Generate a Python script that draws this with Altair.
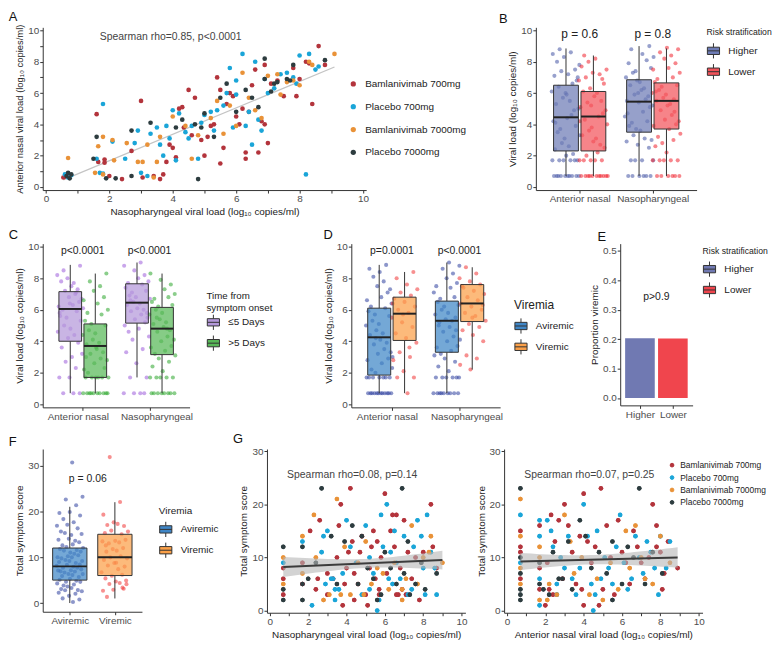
import numpy as np
import pandas as pd
import altair as alt

FONT = "Liberation Sans"

# ---------------- shared categories ----------------
GROUPS = ["Bamlanivimab 700mg", "Placebo 700mg", "Bamlanivimab 7000mg", "Placebo 7000mg"]
GROUP_COLORS = ["#B3343C", "#1AA5D8", "#E99238", "#2D3C3F"]
SITES = ["Anterior nasal", "Nasopharyngeal"]
RISK = ["Higher", "Lower"]
ONSET = ["≤5 Days", ">5 Days"]
VIREMIA = ["Aviremic", "Viremic"]
TICKS_0_10 = list(range(0, 11))

# ---------------- Panel A: (nasopharyngeal, anterior nasal) ----------------
A_BAM700 = [(0.55,0.6),(0.6,0.65),(1.6,4.65),(1.65,1.6),(1.85,1.75),(1.85,1.55),(2.0,0.7),(2.4,0.5),(2.7,2.3),(3.0,5.5),
            (3.05,0.6),(3.4,0.7),(3.6,0.5),(3.7,0.8),(3.8,1.6),(3.9,2.7),(4.0,2.5),(4.1,1.9),(4.2,5.0),(4.3,5.1),
            (4.35,3.8),(4.5,6.2),(4.6,3.3),(4.7,5.7),(4.9,3.0),(5.0,2.0),(5.1,3.2),(5.2,3.9),(5.3,4.0),(5.4,7.0),
            (5.5,6.2),(5.5,1.5),(5.6,2.5),(5.7,5.3),(5.8,6.0),(5.9,5.8),(6.0,4.5),(6.1,4.0),(6.2,5.0),(6.3,2.2),
            (6.3,1.8),(6.4,4.8),(6.5,6.5),(6.6,7.5),(6.7,2.2),(6.8,4.2),(6.9,7.8),(6.9,4.0),(7.0,2.8),(7.1,6.6),
            (7.3,6.8),(7.5,5.8),(7.8,7.6),(7.9,5.8),(8.0,6.9),(8.2,8.0),(8.3,7.9),(8.4,5.3),(8.6,9.0),(8.8,7.8)]
A_PLA700 = [(0.6,0.8),(0.7,0.6),(0.8,0.75),(1.6,1.8),(1.7,0.9),(1.8,0.85),(1.8,5.3),(2.1,2.9),(2.5,1.8),(2.8,2.8),
            (2.9,3.6),(3.0,0.9),(3.2,0.7),(3.3,3.4),(3.5,3.8),(3.6,2.7),(3.7,2.0),(3.8,3.9),(3.9,3.1),(4.0,4.9),
            (4.1,1.7),(4.2,4.7),(4.4,3.5),(4.5,3.1),(4.6,3.9),(4.8,1.8),(4.9,4.1),(5.0,4.6),(5.2,4.8),(5.3,3.6),
            (5.4,4.9),(5.6,5.2),(5.7,6.0),(5.8,7.6),(5.9,3.8),(6.0,5.9),(6.0,6.8),(6.2,8.5),(6.3,3.9),(6.4,4.8),
            (6.5,2.7),(6.6,8.0),(6.7,4.3),(6.8,3.6),(6.9,6.9),(7.0,6.0),(7.2,6.3),(7.4,7.2),(7.6,7.3),(7.8,7.0),
            (8.0,8.4),(8.2,0.8),(8.3,8.5),(8.5,7.5),(8.6,7.7),(7.9,6.6)]
A_BAM7000 = [(0.7,1.85),(1.55,0.9),(1.65,2.6),(1.8,3.2),(1.8,0.8),(2.1,3.0),(2.15,1.7),(2.55,2.8),(2.9,1.6),(3.05,1.6),
             (3.2,2.7),(3.4,0.6),(3.5,1.6),(3.6,3.2),(4.0,4.5),(4.4,3.9),(4.6,1.8),(4.8,3.3),(5.2,4.4),(5.4,5.5),
             (5.6,3.4),(5.8,5.2),(6.0,3.9),(6.2,7.3),(6.4,5.7),(6.6,4.9),(6.8,4.4),(7.0,7.1),(7.3,7.2),(7.4,5.9),
             (7.6,6.7),(7.8,6.8),(8.0,6.5),(8.3,8.0),(8.4,7.8),(9.1,8.5)]
A_PLA7000 = [(0.65,0.7),(0.7,0.9),(0.75,0.55),(0.8,0.8),(1.5,1.8),(1.6,3.2),(1.9,0.55),(2.2,0.55),(2.7,3.6),(2.7,0.7),
             (3.3,4.1),(4.1,3.8),(4.3,4.3),(4.7,4.0),(4.8,0.5),(4.9,3.8),(5.0,4.7),(5.3,3.2),(5.5,5.7),(5.7,6.6),
             (6.0,4.8),(6.3,6.2),(6.5,5.7),(6.7,5.1),(6.9,8.2),(6.9,6.9),(7.1,6.1),(7.2,6.6),(7.3,6.7),(7.6,6.9),
             (7.7,6.8),(7.8,7.8),(8.8,8.1)]

# ---------------- Panel G (left): (nasopharyngeal, symptom score) ----------------
G1_BAM700 = [(0.7,3),(0.7,6),(0.7,8),(1.7,5),(1.7,9),(2.1,15),(2.5,6),(2.6,17),(3.0,7),(3.3,6),(3.5,10),(3.6,16),
             (3.7,20),(3.8,1),(3.9,5),(4.0,8),(4.1,11),(4.2,23),(4.3,13),(4.4,7),(4.6,5),(4.7,11),(4.8,14),(5.0,3),
             (5.1,1),(5.2,8),(5.3,12),(5.4,15),(5.5,6),(5.6,13),(5.7,4),(5.8,10),(6.0,22),(6.1,7),(6.3,15),(6.4,18),
             (6.5,12),(6.6,18),(6.7,3),(6.8,8),(6.9,4),(7.0,17),(7.2,11),(7.4,6),(7.6,10),(7.8,2),(8.0,11),(8.4,20),(8.7,8),
             (5.7,3),(6.6,3),(7.1,3),(4.4,2),(2.4,4),(3.0,3),(8.5,12)]
G1_PLA700 = [(0.7,9),(1.7,13),(2.2,1),(2.7,11),(2.8,14),(3.0,15),(3.2,6),(3.4,4),(3.6,4),(3.8,7),(4.0,17),(4.2,12),
             (4.5,9),(4.8,3),(5.0,16),(5.2,10),(5.4,7),(5.6,0),(5.7,2),(5.8,18),(5.9,12),(6.1,20),(6.2,6),(6.3,11),
             (6.5,15),(6.6,9),(6.8,6),(7.0,14),(7.2,3),(7.5,12),(7.7,17),(8.0,8),(8.1,3),(8.2,18),(8.4,11),(8.7,3),(8.6,8),
             (3.3,6),(6.4,5),(7.4,4),(5.2,4),(3.4,2),(2.9,5),(7.9,14)]
G1_BAM7000 = [(0.7,5),(0.7,10),(1.7,14),(1.7,7),(2.3,18),(2.4,10),(2.8,2),(3.1,3),(3.5,21),(3.9,12),(4.2,3),(4.6,9),
              (5.0,13),(5.3,5),(5.6,8),(5.9,7),(6.2,4),(6.5,9),(6.9,2),(7.1,6),(7.4,16),(7.7,5),(8.0,10),(8.4,14),(9.0,9),
              (4.9,3),(6.9,4),(3.7,3),(8.3,11)]
G1_PLA7000 = [(0.7,2),(0.7,4),(0.7,12),(1.7,2),(1.7,5),(1.7,12),(2.4,9),(2.7,23),(3.2,14),(3.5,5),(3.9,13),(4.3,16),
              (4.6,5),(4.8,14),(5.1,8),(5.4,6),(5.8,3),(6.0,11),(6.3,8),(6.6,5),(6.9,23),(7.0,7),(7.2,13),(7.6,5),(7.9,9),(8.7,7),
              (5.6,2),(7.3,3),(8.1,4),(2.0,6)]

# ---------------- Panel G (right): (anterior nasal, symptom score) ----------------
G2_BAM700 = [(0.7,15),(0.7,12),(0.7,6),(0.7,11),(1.7,16),(1.7,8),(2.0,1),(2.1,9),(2.2,4),(2.3,18),(2.5,13),(2.7,17),
             (3.0,20),(3.2,16),(3.4,11),(3.6,5),(3.8,14),(4.0,22),(4.0,1),(4.2,13),(4.4,9),(4.6,12),(4.8,1),(4.9,23),
             (5.0,4),(5.2,16),(5.4,10),(5.6,3),(5.8,17),(6.0,11),(6.2,9),(6.4,5),(6.6,15),(6.8,12),(7.0,9),(7.2,6),
             (7.4,10),(7.6,20),(7.8,16),(8.0,11),(8.1,4),(8.2,7),(8.9,8),(2.9,6),(2.4,3),(7.8,12),(8.4,13),
             (1.7,4),(3.9,4)]
G2_PLA700 = [(0.7,18),(0.7,9),(1.7,17),(1.7,14),(1.7,6),(1.7,1),(2.1,17),(2.3,15),(2.4,12),(2.6,3),(2.8,10),(3.0,8),
             (3.2,14),(3.4,6),(3.6,3),(3.8,8),(4.0,20),(4.2,14),(4.4,5),(4.5,0),(4.7,15),(4.9,6),(5.1,10),(5.3,8),
             (5.5,5),(5.7,12),(5.9,18),(6.1,9),(6.3,4),(6.5,6),(6.7,14),(6.9,10),(7.1,7),(7.3,13),(7.5,11),(7.7,8),
             (7.9,3),(8.0,14),(8.3,8),(8.5,13),(2.6,5),(4.6,3)]
G2_BAM7000 = [(0.7,21),(0.7,14),(0.7,8),(0.7,5),(1.7,12),(1.7,2),(1.7,10),(2.2,5),(2.6,3),(3.0,18),(3.3,13),(3.5,7),
              (3.9,10),(4.3,3),(4.7,6),(5.0,2),(5.4,9),(5.8,4),(6.2,15),(6.4,8),(6.7,16),(7.0,10),(7.2,6),(7.6,5),(8.0,14),(8.5,9),
              (2.1,2)]
G2_PLA7000 = [(0.7,23),(0.7,10),(0.7,7),(0.7,4),(0.7,3),(0.7,2),(1.7,5),(1.7,9),(2.4,11),(2.9,6),(3.2,13),(3.4,4),
              (3.8,17),(4.1,14),(4.4,8),(4.8,11),(5.2,7),(5.5,13),(6.0,5),(6.3,12),(6.6,10),(6.9,23),(7.2,5),(7.6,11),(8.1,7),
              (2.2,3),(2.7,6),(1.9,4),(5.5,2)]

# ---------------- Box statistics [lower whisker, Q1, median, Q3, upper whisker] ----------------
B_STATS = [[0.7, 2.3, 4.45, 6.5, 8.85], [0.7, 2.3, 4.5, 6.1, 8.4],
           [0.7, 3.5, 5.45, 6.85, 9.0], [0.7, 3.7, 5.5, 6.65, 8.85]]
C_STATS = [[0.7, 4.0, 6.05, 7.15, 8.85], [0.7, 1.7, 3.7, 5.1, 8.3],
           [1.7, 5.15, 6.45, 7.65, 9.0], [0.7, 3.15, 4.8, 6.15, 8.3]]
D_STATS = [[0.7, 1.85, 4.25, 6.1, 8.85], [0.7, 4.05, 5.75, 6.8, 8.4],
           [0.7, 3.3, 5.3, 6.55, 9.0], [2.2, 5.25, 6.4, 7.6, 8.7]]
F_STATS = [[0, 5, 8, 12, 21], [1, 6, 10, 15, 22]]

# ---------------- Individual values behind the boxes ----------------
B_PTS = [
    [0.7,0.7,0.7,0.7,0.7,0.7,0.7,0.7,0.7,0.7,1.7,1.7,1.7,1.7,1.7,1.7,2.0,2.4,2.1,2.8,3.3,2.6,3.5,3.9,3.1,4.2,4.6,3.7,
     5.0,4.4,5.3,4.9,5.7,6.1,5.5,6.4,6.8,6.0,7.1,6.6,7.4,7.8,7.2,8.0,7.5,8.3,8.5,8.6,8.8,7.0,5.9,4.1],
    [0.7,0.7,0.7,0.7,0.7,0.7,0.7,0.7,0.7,0.7,0.7,1.7,1.7,1.7,1.7,1.7,2.2,2.0,2.5,2.9,3.3,2.7,3.6,4.0,3.1,4.3,4.7,3.8,
     5.1,4.5,5.4,4.9,5.8,6.1,5.5,6.3,6.8,6.0,7.0,6.6,7.3,7.7,7.2,8.0,7.5,8.2,8.4,6.9,5.2,4.2],
    [0.7,0.7,0.7,0.7,0.7,0.7,1.7,1.7,1.7,1.7,2.5,2.7,2.9,3.1,3.3,3.0,3.6,3.9,4.2,3.7,4.5,4.8,4.1,5.1,5.4,4.7,5.6,5.9,
     5.2,6.2,6.5,5.8,6.8,7.0,6.3,7.3,7.6,6.7,7.9,8.1,7.4,8.3,8.5,8.8,9.0,6.0,5.5],
    [0.7,0.7,0.7,0.7,0.7,0.7,1.7,1.7,1.7,1.7,1.7,2.2,2.6,3.0,2.8,3.4,3.7,3.2,4.0,4.3,3.9,4.6,4.9,4.2,5.2,5.5,4.8,5.7,
     6.0,5.3,6.2,6.5,5.9,6.7,7.0,6.4,7.3,7.6,6.9,7.9,8.2,7.5,8.4,8.6,8.8,8.9,6.1,5.6],
]
C_PTS = [
    [0.7,0.7,0.7,1.7,1.7,2.3,2.7,3.2,3.0,3.6,3.9,4.2,4.6,4.4,5.0,5.3,4.8,5.6,5.9,5.5,6.1,6.3,6.0,6.5,6.8,6.2,7.0,7.2,
     6.7,7.5,7.8,7.3,8.0,8.2,7.7,8.5,8.8,6.4,5.8,7.1],
    [0.7,0.7,0.7,0.7,0.7,0.7,0.7,0.7,0.7,0.7,1.7,1.7,1.7,1.7,1.7,1.7,2.0,2.3,2.6,2.2,2.9,3.2,2.8,3.5,3.8,3.3,4.1,4.4,
     3.9,4.7,5.0,4.5,5.3,5.7,5.1,6.0,6.4,5.8,6.8,7.2,6.6,7.5,7.8,8.3,3.6,3.0],
    [0.7,0.7,0.7,0.7,1.7,1.7,2.6,3.3,3.5,4.1,4.3,4.8,4.6,5.2,5.4,5.0,5.7,5.9,5.5,6.1,6.3,6.0,6.5,6.7,6.4,6.9,7.2,6.8,
     7.4,7.6,7.1,7.8,8.0,7.7,8.2,8.5,8.8,9.0,6.6,5.8],
    [0.7,0.7,0.7,0.7,0.7,0.7,0.7,0.7,1.7,1.7,1.7,1.7,1.7,2.1,2.4,2.7,2.9,3.1,3.4,3.2,3.7,4.0,3.6,4.3,4.6,4.1,4.9,5.1,
     4.7,5.4,5.7,5.2,6.0,6.3,5.8,6.5,6.8,6.2,7.0,7.3,6.7,7.6,7.9,8.3,4.8,5.5],
]
D_PTS = [
    [0.7,0.7,0.7,0.7,0.7,0.7,0.7,0.7,0.7,0.7,0.7,0.7,1.7,1.7,1.7,1.7,1.7,1.7,1.7,2.0,2.3,2.6,2.2,2.9,3.2,2.8,3.5,3.8,
     3.3,4.1,4.4,3.9,4.7,5.0,4.5,5.3,5.6,5.1,5.9,6.1,5.7,6.4,6.8,6.2,7.1,7.5,6.6,7.8,8.1,7.3,8.4,8.6,8.85,4.2,3.0],
    [0.7,1.7,1.7,2.1,2.8,3.0,3.3,3.9,4.2,4.5,4.9,5.2,5.5,5.8,6.0,6.2,6.5,6.7,6.9,7.1,7.3,7.6,8.0,8.4,5.7,6.4,3.6],
    [0.7,0.7,0.7,0.7,0.7,0.7,0.7,0.7,0.7,1.7,1.7,1.7,1.7,1.7,1.7,2.1,2.4,2.7,2.9,3.1,3.4,3.2,3.7,4.0,3.6,4.3,4.6,4.1,
     4.9,5.2,4.7,5.4,5.7,5.3,6.0,6.3,5.8,6.5,6.8,6.2,7.1,7.4,6.7,7.7,8.0,7.5,8.3,8.6,8.8,9.0,5.0,5.5],
    [2.2,2.5,2.9,3.1,4.0,4.4,4.7,4.9,5.1,5.3,5.6,5.8,6.0,6.2,6.4,6.6,6.8,7.0,7.2,7.4,7.6,7.8,8.0,8.3,8.7,6.3,5.5,7.5],
]
F_PTS = [
    [0,1,1,2,2,2,3,3,3,3,3,4,4,4,4,5,5,5,5,5,6,6,6,6,6,7,7,7,7,7,7,8,8,8,8,8,8,9,9,9,9,9,10,10,10,10,10,
     11,11,11,11,12,12,12,12,13,13,13,14,14,14,15,15,15,16,16,17,17,18,18,19,20,20,21,22.5,23.3,31],
    [1,3,3,3,4,4,5,5,5,6,6,7,7,8,8,9,9,10,10,10,11,11,12,12,13,13,13,14,14,15,15,16,16,17,17,17,18,19,22,32,
     4.5,8.5,12.5,3.5],
]
E_PROP = [0.203, 0.202]

B_NOTES = ["p = 0.6", "p = 0.8"]
C_NOTES = ["p<0.0001", "p<0.0001"]
D_NOTES = ["p=0.0001", "p<0.0001"]

# ---------------- colours ----------------
B_BOX = ["#6E7CB6", "#F2545B"]; B_PT = ["#4454A4", "#F0222E"]
C_BOX = ["#B499DA", "#58B858"]; C_PT = ["#9C5CDA", "#2BA52B"]
D_BOX = ["#3F86C6", "#FBA048"]; D_PT = ["#2E3F9E", "#F03434"]
E_COL = ["#7079B2", "#F0454D"]

BOX_GLYPH = "M-1,-0.6H1V0.6H-1Z M0,-0.6V-1.25 M0,0.6V1.25 M-1,0H1"
LOG = "log\u2081\u2080"
SPLIT = {"condition": {"test": "datum.value == 1", "value": -5}, "value": 7}
EVEN_ONLY = "datum.value % 2 == 0 ? datum.label : ''"


def letter(t, dx=0, offset=0):
    return alt.TitleParams(t, anchor="start", frame="bounds", fontSize=13, fontWeight="normal",
                           font=FONT, color="#111", dx=dx, offset=offset)


def box_legend(title, x, y, title_size=8.7, label_size=10, row_pad=1, title_pad=7, sym=150):
    return alt.Legend(title=title, orient="none", legendX=x, legendY=y, offset=0, symbolType=BOX_GLYPH,
                      symbolSize=sym, symbolStrokeColor="#333", symbolStrokeWidth=1,
                      titleFontSize=title_size, labelFontSize=label_size, rowPadding=row_pad,
                      titlePadding=title_pad, labelOffset=8, symbolOpacity=1, titleLineHeight=11.5)


def box_frames(cats, groups, stats, pts):
    srows, prows = [], []
    k = 0
    for ci in range(len(cats)):
        for gi, grp in enumerate(groups[ci]):
            lo, q1, md, q3, hi = stats[k]
            srows.append(dict(cat=ci + 1, g=gi, group=grp, lo=lo, q1=q1, med=md, q3=q3, hi=hi))
            for v in pts[k]:
                prows.append(dict(cat=ci + 1, g=gi, group=grp, v=v))
            k += 1
    return pd.DataFrame(srows), pd.DataFrame(prows)


def box_panel(cats, groups, stats, pts, box_cols, pt_cols, legend, notes, ydom, yvals, ytitle,
              w, h, title, dodge=0.375, half=0.17, jit=0.2, yjit=0.0, domain_groups=None,
              note_size=10, label_offset=0):
    sdf, pdf = box_frames(cats, groups, stats, pts)
    dom = domain_groups
    xs = alt.Scale(domain=[0.4, len(cats) + 0.6], nice=False, zero=False)
    ys = alt.Scale(domain=ydom, nice=False, zero=False)
    expr = " : ".join([f"datum.value == {i + 1} ? '{c}'" for i, c in enumerate(cats)]) + " : ''"
    xax = alt.Axis(title=None, values=list(range(1, len(cats) + 1)), labelExpr=expr, labelOffset=label_offset)
    yax = alt.Axis(title=ytitle, values=yvals)

    def X(f):
        return alt.X(f, type="quantitative", scale=xs, axis=xax)

    def Y(f):
        return alt.Y(f, type="quantitative", scale=ys, axis=yax)

    pos = f"datum.cat + (datum.g - 0.5) * {dodge}"
    base = alt.Chart(sdf).transform_calculate(xc=pos, xa=f"{pos} - {half}", xb=f"{pos} + {half}")
    points = alt.Chart(pdf).transform_window(rn="row_number()").transform_calculate(
        xj=f"{pos} + ((datum.rn * 0.618034) % 1 - 0.5) * {2 * jit}",
        yj=f"datum.v + ((datum.rn * 0.7548777) % 1 - 0.5) * {2 * yjit}",
    ).mark_circle(size=17, opacity=0.55).encode(
        x=X("xj"), y=Y("yj"),
        color=alt.Color("group:N", scale=alt.Scale(domain=dom, range=pt_cols), legend=None))
    wlo = base.mark_rule(color="#333", strokeWidth=1).encode(x=X("xc"), y=Y("lo"), y2=alt.Y2("q1"))
    whi = base.mark_rule(color="#333", strokeWidth=1).encode(x=X("xc"), y=Y("q3"), y2=alt.Y2("hi"))
    box = base.mark_rect(stroke="#333", strokeWidth=1, fillOpacity=0.72).encode(
        x=X("xa"), x2=alt.X2("xb"), y=Y("q1"), y2=alt.Y2("q3"),
        color=alt.Color("group:N", scale=alt.Scale(domain=dom, range=box_cols), legend=legend))
    med = base.mark_rule(color="#222", strokeWidth=2).encode(x=X("xa"), x2=alt.X2("xb"), y=Y("med"))
    ndf = pd.DataFrame(notes)
    txt = alt.Chart(ndf).mark_text(font=FONT, fontSize=note_size, color="#222").encode(
        x=X("x"), y=Y("y"), text="t:N")
    return alt.layer(points, wlo, whi, box, med, txt).resolve_scale(color="independent").properties(
        width=w, height=h, title=title)


def pairs_df(lists):
    rows = []
    for g, pts in zip(GROUPS, lists):
        for x, y in pts:
            rows.append({"x": x, "y": y, "group": g})
    return pd.DataFrame(rows)


def band_df(df):
    x = df["x"].to_numpy(float)
    y = df["y"].to_numpy(float)
    n = len(x)
    b1, b0 = np.polyfit(x, y, 1)
    s = np.sqrt(np.sum((y - (b0 + b1 * x)) ** 2) / (n - 2))
    xs = np.linspace(x.min(), x.max(), 30)
    se = s * np.sqrt(1.0 / n + (xs - x.mean()) ** 2 / np.sum((x - x.mean()) ** 2))
    fit = b0 + b1 * xs
    return pd.DataFrame({"x": xs, "lo": fit - 1.97 * se, "hi": fit + 1.97 * se})


# ---------------- Panel A ----------------
dfA = pairs_df([A_BAM700, A_PLA700, A_BAM7000, A_PLA7000])
xsA = alt.Scale(domain=[-0.1, 10.1], nice=False, zero=False)
ysA = alt.Scale(domain=[-0.2, 10.2], nice=False, zero=False)
xaA = alt.Axis(title=f"Nasopharyngeal viral load ({LOG} copies/ml)", values=TICKS_0_10, labelExpr=EVEN_ONLY)
yaA = alt.Axis(title=f"Anterior nasal viral load ({LOG} copies/ml)", values=TICKS_0_10, labelExpr=EVEN_ONLY,
               titleFontSize=9.5)
A_line = alt.Chart(dfA).transform_regression("x", "y").mark_line(color="#c4c4c4", strokeWidth=1.3).encode(
    x=alt.X("x:Q", scale=xsA, axis=xaA), y=alt.Y("y:Q", scale=ysA, axis=yaA))
A_pts = alt.Chart(dfA).mark_circle(size=22, opacity=1).encode(
    x=alt.X("x:Q", scale=xsA, axis=xaA), y=alt.Y("y:Q", scale=ysA, axis=yaA),
    color=alt.Color("group:N", scale=alt.Scale(domain=GROUPS, range=GROUP_COLORS),
                    legend=alt.Legend(title=None, orient="none", legendX=308, legendY=52, offset=0,
                                      symbolType="circle", symbolSize=28, labelFontSize=10, rowPadding=13,
                                      labelOffset=7)))
A_txt = alt.Chart(pd.DataFrame({"x": [1.7], "y": [9.6], "t": ["Spearman rho=0.85, p<0.0001"]})).mark_text(
    font=FONT, fontSize=10.5, color="#444", align="left").encode(
    x=alt.X("x:Q", scale=xsA, axis=xaA), y=alt.Y("y:Q", scale=ysA, axis=yaA), text="t:N")
panelA = alt.layer(A_line, A_pts, A_txt).properties(width=326, height=164, title=letter("A", dx=-6))

# ---------------- Panel B ----------------
VL = f"Viral load ({LOG} copies/ml)"
panelB = box_panel(SITES, [RISK, RISK], B_STATS, B_PTS, B_BOX, B_PT,
                   box_legend("Risk stratification", 172, 1),
                   {"x": [1, 2], "y": [9.75, 9.75], "t": B_NOTES},
                   [-0.2, 10.2], [0, 2, 4, 6, 8, 10], VL, 162, 164, letter("B", dx=-9),
                   domain_groups=RISK, note_size=12)

# ---------------- Panel C ----------------
panelC = box_panel(SITES, [ONSET, ONSET], C_STATS, C_PTS, C_BOX, C_PT,
                   box_legend(["Time from", "symptom onset"], 165, 48, title_size=9.8, title_pad=3),
                   {"x": [1, 2], "y": [9.75, 9.75], "t": C_NOTES},
                   [-0.2, 10.2], [0, 2, 4, 6, 8, 10], VL, 148, 165, letter("C", dx=-6),
                   domain_groups=ONSET, note_size=10.5, label_offset=SPLIT)

# ---------------- Panel D ----------------
panelD = box_panel(SITES, [VIREMIA, VIREMIA], D_STATS, D_PTS, D_BOX, D_PT,
                   box_legend("Viremia", 164, 57, title_size=12, title_pad=7),
                   {"x": [1, 2], "y": [9.75, 9.75], "t": D_NOTES},
                   [-0.2, 10.2], [0, 2, 4, 6, 8, 10], VL, 150, 165, letter("D", dx=0),
                   domain_groups=VIREMIA, note_size=10.5, label_offset=SPLIT)

# ---------------- Panel E ----------------
dfE = pd.DataFrame({"cat": [1, 2], "group": RISK, "p": E_PROP})
xsE = alt.Scale(domain=[0.4, 2.6], nice=False, zero=False)
ysE = alt.Scale(domain=[-0.025, 0.525], nice=False, zero=False)
exprE = f"datum.value == 1 ? '{RISK[0]}' : datum.value == 2 ? '{RISK[1]}' : ''"
xaE = alt.Axis(title=None, values=[1, 2], labelExpr=exprE)
yaE = alt.Axis(title="Proportion viremic", values=[0, 0.1, 0.2, 0.3, 0.4, 0.5], format=".1f")
E_bar = alt.Chart(dfE).transform_calculate(xa="datum.cat - 0.45", xb="datum.cat + 0.45").mark_rect().encode(
    x=alt.X("xa:Q", scale=xsE, axis=xaE), x2=alt.X2("xb"),
    y=alt.Y("p:Q", scale=ysE, axis=yaE), y2=alt.datum(0),
    color=alt.Color("group:N", scale=alt.Scale(domain=RISK, range=E_COL),
                    legend=box_legend("Risk stratification", 83, 3)))
E_txt = alt.Chart(pd.DataFrame({"x": [1.5], "y": [0.345], "t": ["p>0.9"]})).mark_text(
    font=FONT, fontSize=10.5, color="#222").encode(
    x=alt.X("x:Q", scale=xsE, axis=xaE), y=alt.Y("y:Q", scale=ysE, axis=yaE), text="t:N")
panelE = alt.layer(E_bar, E_txt).properties(width=73, height=163, title=letter("E", dx=8))

# ---------------- Panel F ----------------
panelF = box_panel(VIREMIA, [[VIREMIA[0]], [VIREMIA[1]]], F_STATS, F_PTS, D_BOX, D_PT,
                   box_legend("Viremia", 117, 57, title_size=10, label_size=10),
                   {"x": [1.4], "y": [27.1], "t": ["p = 0.06"]},
                   [-1.9, 33.6], [0, 10, 20, 30], "Total symptom score", 100, 164, letter("F", dx=-6),
                   dodge=0.0, half=0.38, jit=0.3, yjit=0.45, domain_groups=VIREMIA, note_size=10.5)


# ---------------- Panel G ----------------
def g_panel(lists, xtitle, note, legend, title=None):
    df = pairs_df(lists)
    bd = band_df(df)
    xs = alt.Scale(domain=[-0.15, 10.2], nice=False, zero=False)
    ys = alt.Scale(domain=[-0.4, 30.4], nice=False, zero=False)
    xa = alt.Axis(title=xtitle, values=TICKS_0_10, labelExpr=EVEN_ONLY)
    ya = alt.Axis(title="Total symptom score", values=[0, 10, 20, 30])
    cs = alt.Scale(domain=GROUPS, range=GROUP_COLORS)
    ring = alt.Chart(df).mark_point(filled=False, size=12, strokeWidth=1, opacity=1).encode(
        x=alt.X("x:Q", scale=xs, axis=xa), y=alt.Y("y:Q", scale=ys, axis=ya),
        color=alt.Color("group:N", scale=cs, legend=legend))
    pts = alt.Chart(df).mark_circle(size=22, opacity=1).encode(
        x=alt.X("x:Q", scale=xs, axis=xa), y=alt.Y("y:Q", scale=ys, axis=ya),
        color=alt.Color("group:N", scale=cs, legend=None))
    band = alt.Chart(bd).mark_area(color="#b5b5b5", opacity=0.6).encode(
        x=alt.X("x:Q", scale=xs, axis=xa), y=alt.Y("lo:Q", scale=ys, axis=ya), y2=alt.Y2("hi"))
    line = alt.Chart(df).transform_regression("x", "y").mark_line(color="#3c3c3c", strokeWidth=2).encode(
        x=alt.X("x:Q", scale=xs, axis=xa), y=alt.Y("y:Q", scale=ys, axis=ya))
    txt = alt.Chart(pd.DataFrame({"x": [0.9], "y": [25.5], "t": [note]})).mark_text(
        font=FONT, fontSize=10.5, color="#444", align="left").encode(
        x=alt.X("x:Q", scale=xs, axis=xa), y=alt.Y("y:Q", scale=ys, axis=ya), text="t:N")
    layer = alt.layer(ring, pts, band, line, txt).properties(width=200, height=165)
    if title is not None:
        layer = layer.properties(title=title)
    return layer


panelG1 = g_panel([G1_BAM700, G1_PLA700, G1_BAM7000, G1_PLA7000],
                  f"Nasopharyngeal viral load ({LOG} copies/ml)", "Spearman rho=0.08, p=0.14", None,
                  letter("G", dx=-6))
panelG2 = g_panel([G2_BAM700, G2_PLA700, G2_BAM7000, G2_PLA7000],
                  f"Anterior nasal viral load ({LOG} copies/ml)", "Spearman rho=0.07, p=0.25",
                  alt.Legend(title=None, orient="none", legendX=165, legendY=12, offset=0, symbolType="circle",
                             symbolSize=14, symbolStrokeWidth=1, labelFontSize=8.5, rowPadding=3.5, labelOffset=4))

row1 = alt.hconcat(panelA, panelB, spacing=32).resolve_scale(color="independent")
row2 = alt.hconcat(panelC, alt.hconcat(panelD, panelE, spacing=15).resolve_scale(color="independent"),
                   spacing=50).resolve_scale(color="independent")
row3 = alt.hconcat(panelF, alt.hconcat(panelG1, panelG2, spacing=8).resolve_scale(color="independent"),
                   spacing=13).resolve_scale(color="independent")

chart = alt.vconcat(row1, row2, row3, spacing=12).resolve_scale(color="independent").properties(
    padding={"left": 0, "top": 0, "right": 0, "bottom": 0}
).configure_view(stroke=None).configure_axis(
    grid=False, domainColor="#333", tickColor="#333", labelColor="#4d4d4d", titleColor="#222",
    labelFont=FONT, titleFont=FONT, labelFontSize=10, titleFontSize=10, titleFontWeight="normal",
    tickSize=3, labelPadding=1, titlePadding=3
).configure_legend(
    labelFont=FONT, titleFont=FONT, titleFontWeight="normal", labelColor="#222", titleColor="#222"
).configure_title(font=FONT)

chart.save("out.html", embed_options={"renderer": "svg", "actions": False})
